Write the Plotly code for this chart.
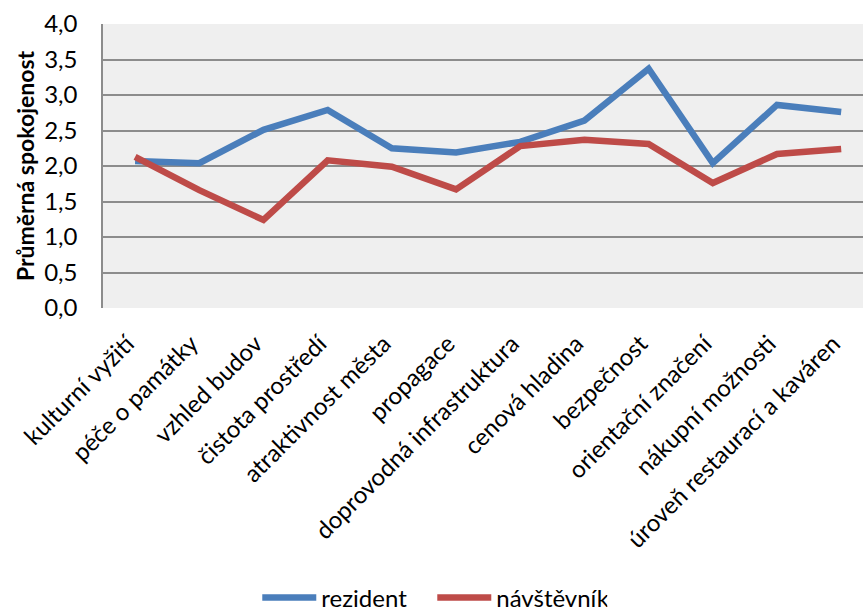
import plotly.graph_objects as go

categories = ["kulturní vyžití", "péče o památky", "vzhled budov", "čistota prostředí",
              "atraktivnost města", "propagace", "doprovodná infrastruktura", "cenová hladina",
              "bezpečnost", "orientační značení", "nákupní možnosti", "úroveň restaurací a kaváren"]
rezident = [2.07, 2.04, 2.51, 2.79, 2.25, 2.19, 2.34, 2.64, 3.37, 2.04, 2.86, 2.76]
navstevnik = [2.13, 1.66, 1.24, 2.08, 1.99, 1.67, 2.28, 2.37, 2.31, 1.76, 2.17, 2.24]
y_ticks = [0, 0.5, 1.0, 1.5, 2.0, 2.5, 3.0, 3.5, 4.0]

FONT = "Lato"

fig = go.Figure()
fig.add_trace(go.Scatter(x=categories, y=rezident, mode="lines", name="rezident",
                         line=dict(color="#4a7ebb", width=6.5)))
fig.add_trace(go.Scatter(x=categories, y=navstevnik, mode="lines", name="návštěvník",
                         line=dict(color="#be4b48", width=6.5)))

fig.update_layout(
    width=863, height=612,
    margin=dict(l=103, r=0, t=24, b=304, autoexpand=False),
    paper_bgcolor="white", plot_bgcolor="#efefef",
    separators=", ",
    font=dict(family=FONT, size=24, color="black"),
    showlegend=True,
    legend=dict(orientation="h", x=0.203, xanchor="left", y=-1.021, yanchor="middle",
                font=dict(size=24, family=FONT), itemwidth=54, traceorder="normal",
                entrywidth=106, entrywidthmode="pixels",
                bgcolor="rgba(0,0,0,0)"),
    xaxis=dict(type="category", range=[-0.5, 11.34], tickangle=-45, showgrid=False,
               ticks="", tickfont=dict(size=24, family=FONT), showline=False,
               ticklabelstandoff=16, ticklabelshift=-8),
    yaxis=dict(range=[0, 4], tickvals=y_ticks, tickformat=".1f", showgrid=True,
               gridcolor="#8c8c8c", gridwidth=1.5, showline=True, linecolor="#8c8c8c",
               linewidth=1.5, ticks="", tickfont=dict(size=24, family=FONT),
               ticklabelstandoff=19, zeroline=False,
               title=dict(text="<b>Průměrná spokojenost</b>", font=dict(size=23, family=FONT),
                          standoff=3)),
)

fig.write_html("out.html")
